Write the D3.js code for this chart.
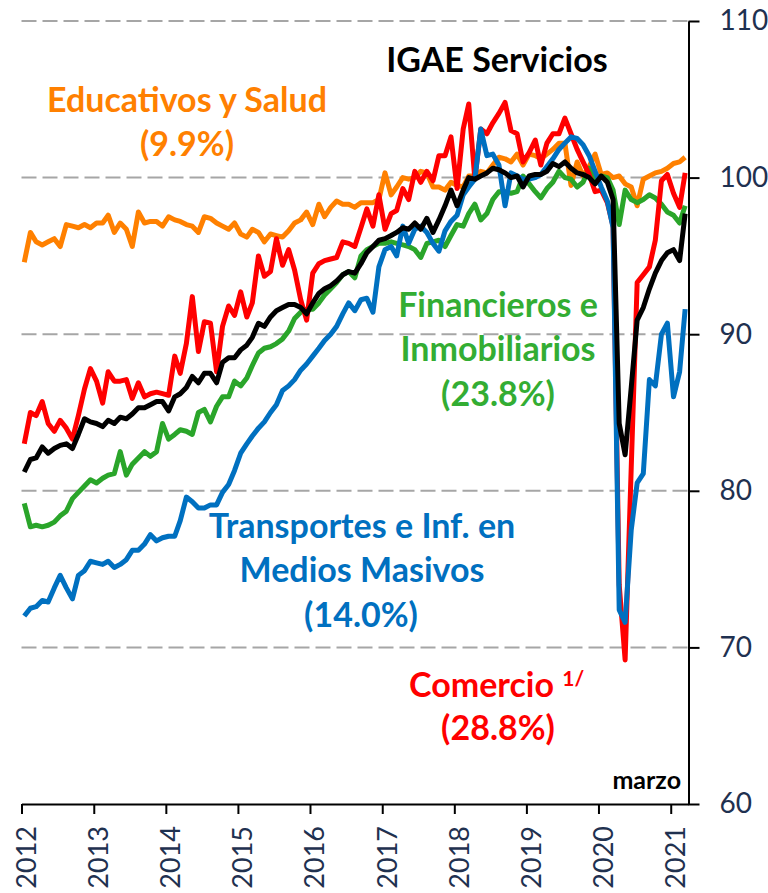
<!DOCTYPE html>
<html>
<head>
  <meta charset="UTF-8">
  <script src="https://d3js.org/d3.v7.min.js"></script>
  <title>IGAE Servicios</title>
  <style type="text/css">
    html, body { margin:0; padding:0; background:#fff; }
    svg { display:block; }
    .lbl { font-family: Lato, "Open Sans", sans-serif; font-weight:bold; }
    .axis text { font-family: Lato, "Open Sans", sans-serif; fill:#1f3150; }
  </style>
</head>
<body>
<div id="chart"></div>
<script>
// monthly, Jan 2012 - Mar 2021 (plotted mid-month)
var months = d3.timeMonth.range(new Date(2012, 0, 1), new Date(2021, 3, 1))
  .map(function(d) { return new Date(d.getFullYear(), d.getMonth(), 15); });
var years = [2012, 2013, 2014, 2015, 2016, 2017, 2018, 2019, 2020, 2021];
var yTicks = [60, 70, 80, 90, 100, 110];
var gridValues = [70, 80, 90, 100, 110];

var educativos = [
  94.6,96.5,95.9,95.7,95.9,96.1,95.6,97.0,96.9,96.8,97.0,96.8,
  97.1,97.1,97.6,96.5,97.1,96.7,95.6,97.8,97.1,97.2,97.2,96.9,
  97.5,97.3,97.2,97.0,96.9,96.5,97.5,97.4,97.1,96.9,96.7,97.1,
  96.4,96.2,96.7,96.5,95.9,96.4,96.3,96.2,96.6,97.1,97.3,97.8,
  97.0,98.3,97.5,98.1,98.5,98.3,98.3,98.1,98.4,98.4,98.4,98.6,
  100.3,98.9,99.4,100.0,99.9,100.0,100.4,100.3,99.4,99.4,99.2,99.7,
  99.5,99.4,100.1,100.1,100.4,100.3,100.8,101.3,101.2,101.0,101.5,100.8,
  101.5,101.4,101.2,101.5,101.8,102.2,102.2,99.5,101.0,100.1,100.7,101.5,
  100.2,100.3,100.0,100.1,99.6,99.4,98.2,99.9,100.1,100.3,100.4,100.6,
  100.9,101.0,101.3
];
var comercio = [
  83.0,85.0,84.8,85.7,84.3,83.8,84.5,84.0,83.3,84.8,86.5,87.8,
  87.0,85.6,87.6,87.0,87.0,87.1,85.9,86.9,86.0,86.2,86.3,86.2,
  86.1,88.6,87.5,89.4,92.4,88.9,90.8,90.7,87.6,90.5,91.8,91.2,
  92.7,91.1,92.0,95.0,93.7,94.0,96.1,94.4,95.4,94.1,92.2,90.9,
  93.9,94.5,94.7,94.8,94.9,95.9,95.8,95.6,96.8,98.0,96.9,98.9,
  96.7,97.7,97.9,99.3,98.6,100.4,99.7,100.4,99.8,101.4,101.4,102.6,
  99.3,103.1,104.7,99.9,103.1,102.8,103.5,104.1,104.8,103.0,102.8,101.0,
  101.6,102.4,100.8,102.2,102.8,102.8,103.8,102.8,101.8,101.0,100.2,99.1,
  99.2,98.4,96.9,74.0,69.2,81.5,93.3,93.8,94.3,96.0,99.8,100.2,
  99.0,98.1,100.3
];
var financieros = [
  79.2,77.7,77.8,77.7,77.8,78.0,78.4,78.7,79.5,79.9,80.3,80.7,
  80.5,80.8,81.0,81.1,82.5,81.0,81.7,82.1,82.5,82.2,82.5,84.3,
  83.3,83.6,83.9,83.8,83.6,85.0,85.2,84.4,85.4,86.0,86.0,87.0,
  86.7,87.2,88.0,88.8,89.1,89.2,89.4,89.7,90.2,91.0,91.4,91.6,
  91.6,92.0,92.5,92.9,93.3,93.8,94.0,93.6,95.0,95.4,95.6,95.8,
  95.8,95.9,95.8,95.7,95.6,95.4,94.9,95.8,95.9,96.0,95.6,96.3,
  97.0,96.9,97.7,98.3,97.3,97.7,98.6,99.1,99.1,99.0,99.1,100.1,
  99.6,99.1,98.7,99.3,99.7,100.4,100.0,99.9,99.4,99.7,100.6,99.9,
  100.1,100.0,99.2,97.0,99.2,98.6,98.4,98.6,98.9,98.7,98.3,97.8,
  97.6,97.1,98.2
];
var transportes = [
  72.0,72.5,72.6,73.0,72.9,73.8,74.6,73.8,73.1,74.6,74.9,75.5,
  75.4,75.3,75.5,75.1,75.3,75.6,76.2,76.2,76.6,77.2,76.8,77.0,
  77.1,77.1,78.1,79.6,79.3,78.9,78.9,79.1,79.1,79.9,80.4,81.3,
  82.4,83.0,83.5,84.0,84.4,85.0,85.5,86.4,86.7,87.1,87.7,88.1,
  88.6,89.1,89.6,90.0,90.5,91.3,92.0,91.5,92.2,92.3,91.4,94.3,
  95.4,95.6,95.0,96.9,95.8,96.7,96.9,96.5,95.8,95.3,96.6,97.2,
  97.6,98.9,99.4,99.9,103.1,101.4,101.5,100.8,98.2,100.3,100.1,99.9,
  99.9,100.0,100.2,100.7,101.2,101.8,102.2,102.6,102.5,102.1,101.4,100.4,
  99.4,98.5,96.8,72.4,71.6,77.5,80.5,81.1,87.1,86.7,90.0,90.7,
  86.0,87.6,91.6
];
var servicios = [
  81.2,82.0,82.1,82.8,82.4,82.7,82.9,83.0,82.7,83.6,84.6,84.4,
  84.3,84.1,84.5,84.3,84.7,84.6,84.9,85.3,85.3,85.5,85.7,85.7,
  85.1,86.0,86.2,86.6,87.3,86.9,87.5,87.5,86.9,88.2,88.5,88.5,
  89.0,89.3,89.8,90.7,90.5,91.1,91.5,91.7,91.9,91.9,91.7,91.3,
  92.0,92.6,92.9,93.1,93.4,93.8,94.0,93.9,94.5,95.2,95.6,96.0,
  96.1,96.3,96.5,96.8,96.7,97.1,96.7,97.4,96.5,97.3,98.2,99.2,
  98.2,99.2,100.0,99.9,100.1,100.3,100.6,100.5,100.3,100.0,100.1,99.4,
  100.1,100.2,100.2,100.4,100.9,100.7,101.0,100.6,100.3,100.2,100.0,99.6,
  100.1,99.7,98.6,84.3,82.3,86.6,90.9,91.7,92.9,93.9,94.7,95.2,
  95.4,94.7,97.7
];

var series = [
  {name: "Educativos y Salud", values: educativos, color: "#ff8000"},
  {name: "Financieros e Inmobiliarios", values: financieros, color: "#2aa52a"},
  {name: "Comercio", values: comercio, color: "#ff0000"},
  {name: "Transportes", values: transportes, color: "#0070c0"},
  {name: "IGAE Servicios", values: servicios, color: "#000000"}
];

var svgWidth = 768, svgHeight = 893;
var plotLeft = 21.5, plotRight = 688.5, plotTop = 21, plotBottom = 804;

var svg = d3.select("#chart").append("svg")
  .attr("width", svgWidth)
  .attr("height", svgHeight);

var x = d3.scaleTime()
  .domain([new Date(2012, 0, 1), new Date(2021, 3, 1)])
  .range([plotLeft, plotRight]);

var y = d3.scaleLinear()
  .domain([60, 110])
  .range([plotBottom, plotTop]);

// dashed gridlines
svg.append("g").selectAll("line")
  .data(gridValues)
  .enter().append("line")
  .attr("x1", plotLeft).attr("x2", plotRight)
  .attr("y1", function(d) { return y(d); })
  .attr("y2", function(d) { return y(d); })
  .attr("stroke", "#a6a6a6")
  .attr("stroke-width", 2)
  .attr("stroke-dasharray", "15,6");

// lines
var line = d3.line()
  .x(function(d, i) { return x(months[i]); })
  .y(function(d) { return y(d); });

svg.append("g").selectAll("path")
  .data(series)
  .enter().append("path")
  .attr("d", function(d) { return line(d.values); })
  .attr("fill", "none")
  .attr("stroke", function(d) { return d.color; })
  .attr("stroke-width", 5)
  .attr("stroke-linejoin", "round");

// x axis
var xAxis = svg.append("g")
  .attr("class", "axis")
  .attr("transform", "translate(0," + plotBottom + ")")
  .call(d3.axisBottom(x)
    .tickValues(years.map(function(yr) { return new Date(yr, 0, 1); }))
    .tickFormat(d3.timeFormat("%Y"))
    .tickSize(10)
    .tickSizeOuter(0));
xAxis.selectAll("path, line").attr("stroke", "#000").attr("stroke-width", 2);
xAxis.selectAll("text")
  .attr("font-size", 27)
  .attr("transform", "rotate(-90)")
  .attr("text-anchor", "end")
  .attr("x", -22)
  .attr("y", 14)
  .attr("dy", 0);

// y axis on the right
var yAxis = svg.append("g")
  .attr("class", "axis")
  .attr("transform", "translate(" + plotRight + ",0)")
  .call(d3.axisRight(y)
    .tickValues(yTicks)
    .tickSize(11)
    .tickSizeOuter(0)
    .tickPadding(20));
yAxis.selectAll("path, line").attr("stroke", "#000").attr("stroke-width", 2);
yAxis.selectAll("text").attr("font-size", 28);

// labels
function label(txt, cx, cy, color, size, anchor) {
  return svg.append("text")
    .attr("class", "lbl")
    .attr("x", cx).attr("y", cy)
    .attr("text-anchor", anchor || "middle")
    .attr("font-size", size || 34)
    .attr("fill", color)
    .text(txt);
}

label("IGAE Servicios", 497, 72, "#000");
label("Educativos y Salud", 187, 112, "#ff8000");
label("(9.9%)", 187, 156, "#ff8000");
label("Financieros e", 498, 317, "#33ad33");
label("Inmobiliarios", 498, 361, "#33ad33");
label("(23.8%)", 498, 406, "#33ad33");
label("Transportes e Inf. en", 362, 538, "#0070c0");
label("Medios Masivos", 362, 582, "#0070c0");
label("(14.0%)", 361, 627, "#0070c0");
var com = label("Comercio ", 409, 697, "#ff0000", 34, "start");
com.append("tspan").attr("font-size", 21).attr("dy", -11).text("1/");
label("(28.8%)", 498, 740, "#ff0000");
label("marzo", 681, 789, "#000", 25, "end");
</script>
</body>
</html>
